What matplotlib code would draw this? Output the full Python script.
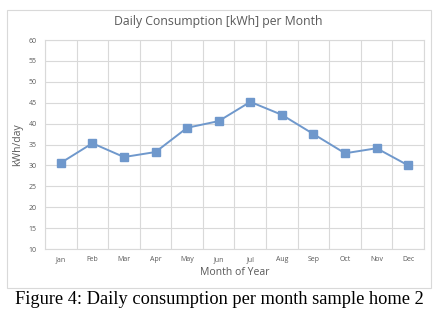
import matplotlib
matplotlib.use("Agg")
import matplotlib.pyplot as plt
from matplotlib.patches import Rectangle

months = ["Jan", "Feb", "Mar", "Apr", "May", "Jun", "Jul", "Aug", "Sep", "Oct", "Nov", "Dec"]
kwh_per_day = [30.6, 35.3, 32.0, 33.2, 39.0, 40.6, 45.2, 42.1, 37.5, 32.9, 34.1, 30.0]
yticks = [10, 15, 20, 25, 30, 35, 40, 45, 50, 55, 60]

W, H = 442, 318
fig = plt.figure(figsize=(W / 100, H / 100), dpi=100)
fig.patch.set_facecolor("white")

# chart frame
fig.patches.append(Rectangle((7 / W, 1 - 288 / H), (431 - 7) / W, (288 - 10) / H,
                             transform=fig.transFigure, fill=False,
                             edgecolor="#d9d9d9", linewidth=0.8))

ax = fig.add_axes([45 / W, 1 - 249 / H, (424 - 45) / W, (249 - 40) / H])
x = list(range(len(months)))
ax.plot(x, kwh_per_day, color="#6f98cc", linewidth=1.4, marker="s",
        markersize=5.5, markerfacecolor="#6f98cc", markeredgecolor="#6f98cc")
ax.set_xlim(-0.5, len(months) - 0.5)
ax.set_ylim(10, 60)
ax.set_yticks(yticks)
ax.set_yticklabels([str(v) for v in yticks])
ax.set_xticks(x)
ax.set_xticklabels(months)
ax.set_xticks([i - 0.5 for i in range(len(months) + 1)], minor=True)

gcol = "#d9d9d9"
ax.grid(True, which="major", axis="y", color=gcol, linewidth=0.8)
ax.grid(True, which="minor", axis="x", color=gcol, linewidth=0.8)
ax.set_axisbelow(True)
for s in ax.spines.values():
    s.set_color(gcol)
    s.set_linewidth(0.8)
ax.tick_params(which="both", length=0)
ax.tick_params(axis="both", labelsize=5, labelcolor="#595959", pad=6)
ax.tick_params(axis="x", pad=5)
for lab in ax.get_xticklabels() + ax.get_yticklabels():
    lab.set_family("Open Sans")

ax.set_xlabel("Month of Year", fontsize=7.5, color="#595959", family="Open Sans", labelpad=3)
ax.set_ylabel("kWh/day", fontsize=7.5, color="#595959", family="Open Sans", labelpad=4)

fig.text(218 / W, 1 - 22 / H, "Daily Consumption [kWh] per Month", ha="center", va="center",
         fontsize=8.8, color="#595959", family="Open Sans")

fig.text(219 / W, 1 - 299 / H, "Figure 4: Daily consumption per month sample home 2",
         ha="center", va="center", fontsize=13.2, color="black", family="Liberation Serif")

fig.savefig("out.png", dpi=100, facecolor="white")
